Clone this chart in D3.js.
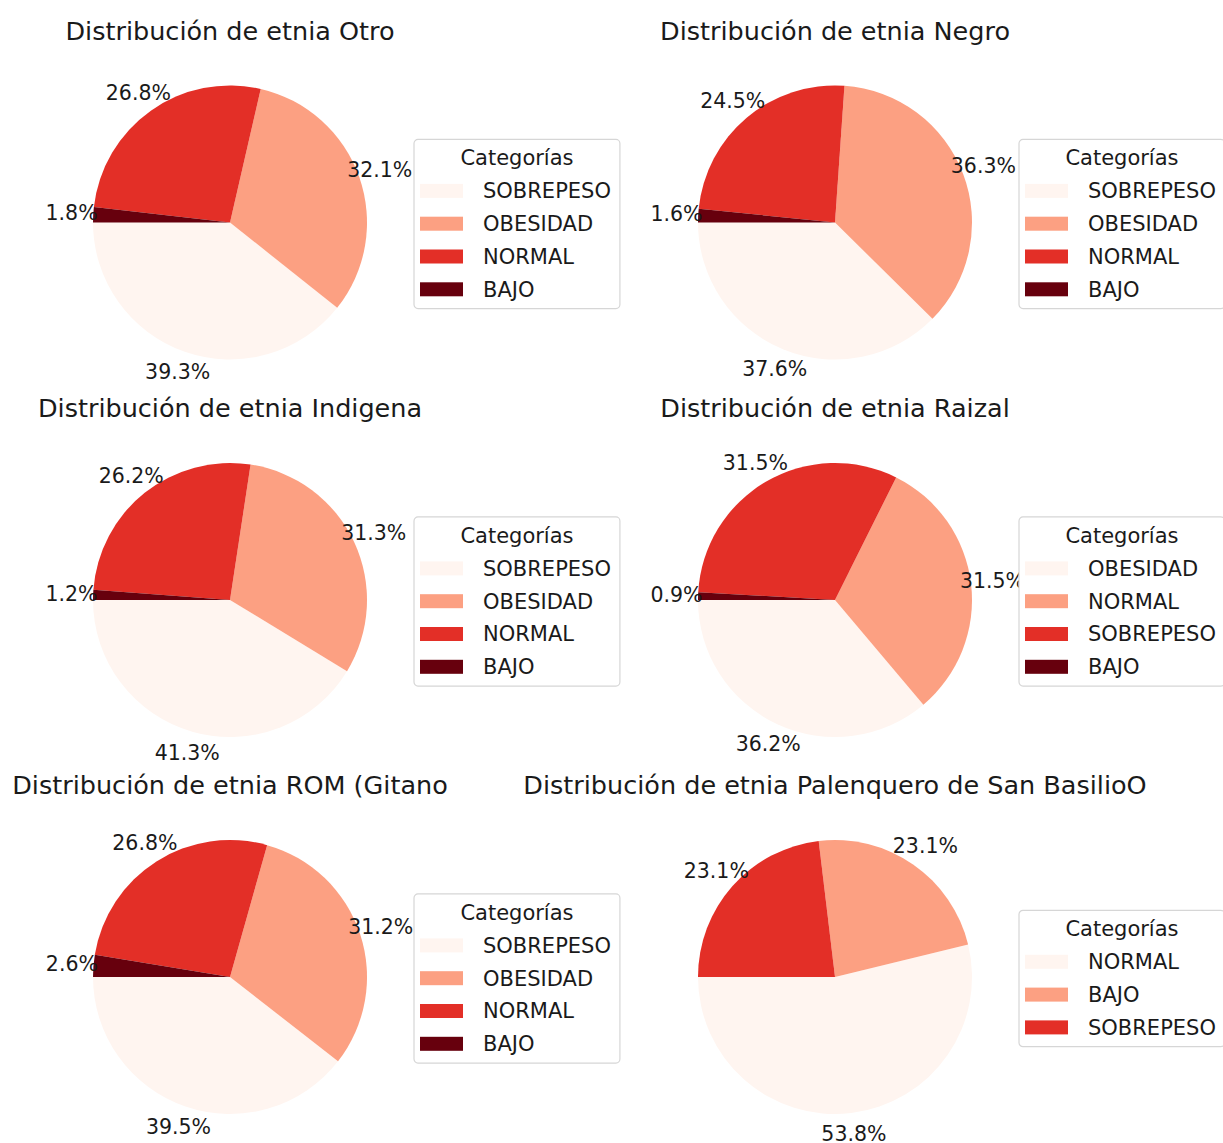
<!DOCTYPE html>
<html>
<head>
<meta charset="utf-8">
<script src="https://cdn.jsdelivr.net/npm/d3@7"></script>
<style>
  html, body { margin: 0; padding: 0; background: #ffffff; }
  svg { display: block; font-family: "DejaVu Sans", sans-serif; }
</style>
</head>
<body>
<svg id="chart" width="1223" height="1143"></svg>
<script>
// Percent distribution of nutritional category by ethnic group
const etnias = ["Otro", "Negro", "Indigena", "Raizal", "ROM (Gitano", "Palenquero de San BasilioO"];

const categoriasOtro = ["SOBREPESO", "OBESIDAD", "NORMAL", "BAJO"];
const valoresOtro = [39.3, 32.1, 26.8, 1.8];

const categoriasNegro = ["SOBREPESO", "OBESIDAD", "NORMAL", "BAJO"];
const valoresNegro = [37.6, 36.3, 24.5, 1.6];

const categoriasIndigena = ["SOBREPESO", "OBESIDAD", "NORMAL", "BAJO"];
const valoresIndigena = [41.3, 31.3, 26.2, 1.2];

const categoriasRaizal = ["OBESIDAD", "NORMAL", "SOBREPESO", "BAJO"];
const valoresRaizal = [36.2, 31.5, 31.5, 0.9];

const categoriasRom = ["SOBREPESO", "OBESIDAD", "NORMAL", "BAJO"];
const valoresRom = [39.5, 31.2, 26.8, 2.6];

const categoriasPalenquero = ["NORMAL", "BAJO", "SOBREPESO"];
const valoresPalenquero = [53.8, 23.1, 23.1];

// Slice colours, taken in order (Reds ramp)
const colores = ["#fff5f0", "#fca082", "#e32f27", "#67000d"];

const paneles = [
  { etnia: etnias[0], categorias: categoriasOtro, valores: valoresOtro },
  { etnia: etnias[1], categorias: categoriasNegro, valores: valoresNegro },
  { etnia: etnias[2], categorias: categoriasIndigena, valores: valoresIndigena },
  { etnia: etnias[3], categorias: categoriasRaizal, valores: valoresRaizal },
  { etnia: etnias[4], categorias: categoriasRom, valores: valoresRom },
  { etnia: etnias[5], categorias: categoriasPalenquero, valores: valoresPalenquero }
];

// Layout of the 3x2 grid
const colCentros = [230, 835];
const filaCentros = [222.5, 600, 977];
const radio = 137;
const distEtiqueta = 1.158;
const tituloBase = -183;
const fuenteTitulo = 25.5;
const fuenteTexto = 20.5;
const fuenteLeyenda = 21;

const svg = d3.select("#chart");

// Start at 9 o'clock and run counter-clockwise
const pie = d3.pie()
  .sort(null)
  .value(d => d)
  .startAngle(1.5 * Math.PI)
  .endAngle(-0.5 * Math.PI);

const arc = d3.arc().innerRadius(0).outerRadius(radio);

paneles.forEach((p, i) => {
  const cx = colCentros[i % 2];
  const cy = filaCentros[Math.floor(i / 2)];
  const g = svg.append("g").attr("transform", `translate(${cx},${cy})`);

  // Title
  g.append("text")
    .attr("x", 0)
    .attr("y", tituloBase)
    .attr("text-anchor", "middle")
    .attr("font-size", fuenteTitulo)
    .attr("fill", "#1a1a1a")
    .text("Distribución de etnia " + p.etnia);

  const arcos = pie(p.valores);

  g.selectAll("path.slice")
    .data(arcos)
    .join("path")
    .attr("class", "slice")
    .attr("d", arc)
    .attr("fill", (d, j) => colores[j]);

  // Percent labels outside the pie
  g.selectAll("text.pct")
    .data(arcos)
    .join("text")
    .attr("class", "pct")
    .attr("x", d => Math.sin((d.startAngle + d.endAngle) / 2) * radio * distEtiqueta)
    .attr("y", d => -Math.cos((d.startAngle + d.endAngle) / 2) * radio * distEtiqueta)
    .attr("dy", "0.33em")
    .attr("text-anchor", "middle")
    .attr("font-size", fuenteTexto)
    .attr("fill", "#1a1a1a")
    .text(d => d.data.toFixed(1) + "%");

  // Legend, centred vertically on the pie
  const n = p.categorias.length;
  const fila = 32.8;
  const altoLeyenda = 38 + n * fila;
  const lx = radio + 47;
  const ly = -altoLeyenda / 2 + 1.5;
  const leg = g.append("g").attr("transform", `translate(${lx},${ly})`);

  const caja = leg.append("rect")
    .attr("x", 0).attr("y", 0)
    .attr("height", altoLeyenda)
    .attr("rx", 4).attr("ry", 4)
    .attr("fill", "#ffffff")
    .attr("stroke", "#d6d6d6")
    .attr("stroke-width", 1.2);

  const textos = leg.selectAll("text.item")
    .data(p.categorias)
    .join("text")
    .attr("class", "item")
    .attr("x", 69)
    .attr("y", (d, j) => 51.5 + j * fila)
    .attr("dy", "0.35em")
    .attr("font-size", fuenteLeyenda)
    .attr("fill", "#1a1a1a")
    .text(d => d);

  leg.selectAll("rect.handle")
    .data(p.categorias)
    .join("rect")
    .attr("class", "handle")
    .attr("x", 6)
    .attr("y", (d, j) => 51.5 + j * fila - 7)
    .attr("width", 43)
    .attr("height", 14)
    .attr("fill", (d, j) => colores[j]);

  let maxAncho = 0;
  textos.each(function () { maxAncho = Math.max(maxAncho, this.getComputedTextLength()); });
  const ancho = 69 + maxAncho + 9;
  caja.attr("width", ancho);

  leg.append("text")
    .attr("x", ancho / 2)
    .attr("y", 18.5)
    .attr("dy", "0.35em")
    .attr("text-anchor", "middle")
    .attr("font-size", fuenteLeyenda)
    .attr("fill", "#1a1a1a")
    .text("Categorías");
});
</script>
</body>
</html>
